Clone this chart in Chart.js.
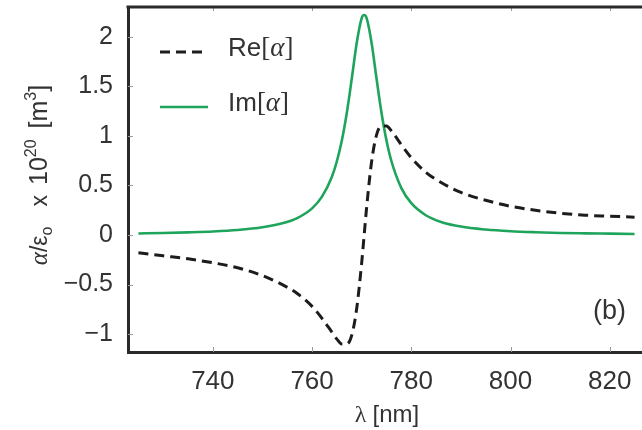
<!DOCTYPE html>
<html>
<head>
<meta charset="utf-8">
<script src="https://cdn.jsdelivr.net/npm/chart.js@4.4.1/dist/chart.umd.min.js"></script>
<style>
  html, body { margin: 0; padding: 0; background: #fff; overflow: hidden; }
  #wrap { position: relative; width: 642px; height: 430px; }
</style>
</head>
<body>
<div id="wrap"><canvas id="polChart" width="642" height="430"></canvas></div>
<script>
// wavelength samples (nm), denser around the resonance
const wavelengths = [725, 730, 735, 740, 745, 750, 754, 757, 760, 762, 764, 765, 766, 767, 768, 769, 770, 770.5,
  771, 772, 773, 774, 775, 776, 778, 780, 783, 786, 790, 795, 800, 805, 810, 815, 820, 825];

// real part of the polarizability
const reAlpha = [-0.18, -0.21, -0.24, -0.28, -0.33, -0.41, -0.50, -0.59, -0.72, -0.84, -0.98, -1.05, -1.10, -1.10, -1.01, -0.74, -0.28, 0.0,
  0.28, 0.74, 1.01, 1.10, 1.10, 1.05, 0.91, 0.78, 0.63, 0.53, 0.43, 0.35, 0.29, 0.25, 0.22, 0.20, 0.19, 0.18];

// imaginary part of the polarizability
const imAlpha = [0.016, 0.020, 0.027, 0.036, 0.051, 0.078, 0.118, 0.171, 0.269, 0.387, 0.588, 0.744, 0.953, 1.231, 1.576, 1.937, 2.188, 2.22,
  2.188, 1.937, 1.576, 1.231, 0.953, 0.744, 0.473, 0.321, 0.197, 0.132, 0.085, 0.055, 0.038, 0.028, 0.021, 0.017, 0.014, 0.011];

const seriesLabels = ['Re[α]', 'Im[α]'];
const xTicks = [740, 760, 780, 800, 820];
const yTicks = [-1, -0.5, 0, 0.5, 1, 1.5, 2];

const textColor = '#333';
const frameColor = '#2a2a2a';
const sans = '"Liberation Sans", Arial, sans-serif';
const serif = '"Liberation Serif", "Times New Roman", serif';

function toPoints(ys) {
  return wavelengths.map((x, i) => ({ x: x, y: ys[i] }));
}

// draw a row of text pieces with their own font, baseline shift and extra gap
function drawPieces(ctx, pieces, x, y) {
  pieces.forEach(p => {
    x += p.gap || 0;
    if (!p.t) return;
    ctx.font = p.font;
    ctx.fillText(p.t, x, y + (p.dy || 0));
    x += ctx.measureText(p.t).width;
  });
}
function piecesWidth(ctx, pieces) {
  let w = 0;
  pieces.forEach(p => {
    w += p.gap || 0;
    if (!p.t) return;
    ctx.font = p.font;
    w += ctx.measureText(p.t).width;
  });
  return w;
}

// top frame line, inner tick marks, legend, axis titles and panel tag
const decorations = {
  id: 'decorations',
  afterDatasetsDraw(chart) {
    const ctx = chart.ctx;
    const area = chart.chartArea;
    const xs = chart.scales.x, ys = chart.scales.y;
    ctx.save();

    // small inward ticks
    ctx.strokeStyle = '#9a9a9a';
    ctx.lineWidth = 1;
    xTicks.forEach(v => {
      const px = Math.round(xs.getPixelForValue(v)) + 0.5;
      ctx.beginPath();
      ctx.moveTo(px, area.bottom - 5); ctx.lineTo(px, area.bottom);
      ctx.moveTo(px, area.top); ctx.lineTo(px, area.top + 4);
      ctx.stroke();
    });
    yTicks.forEach(v => {
      const py = Math.round(ys.getPixelForValue(v)) + 0.5;
      ctx.beginPath();
      ctx.moveTo(area.left, py); ctx.lineTo(area.left + 5, py);
      ctx.stroke();
    });

    // top frame
    ctx.strokeStyle = frameColor;
    ctx.lineWidth = 3;
    ctx.beginPath();
    ctx.moveTo(area.left - 1.5, area.top);
    ctx.lineTo(area.right, area.top);
    ctx.stroke();

    // legend
    ctx.fillStyle = textColor;
    ctx.textBaseline = 'middle';
    ctx.textAlign = 'left';
    chart.data.datasets.forEach((ds, i) => {
      const ly = area.top + 45 + i * 55;
      ctx.strokeStyle = ds.borderColor;
      ctx.lineWidth = ds.borderWidth;
      ctx.setLineDash(ds.borderDash || []);
      ctx.beginPath();
      ctx.moveTo(area.left + 32, ly);
      ctx.lineTo(area.left + 80, ly);
      ctx.stroke();
      ctx.setLineDash([]);
      const parts = ds.label.split('[');
      const sym = parts[1].replace(']', '');
      drawPieces(ctx, [
        { t: parts[0], font: '26px ' + sans },
        { t: '[', font: '27px ' + serif },
        { t: sym, font: 'italic 27px ' + serif },
        { t: ']', font: '27px ' + serif }
      ], area.left + 100, ly - 3);
    });

    // x title
    const xt = [
      { t: 'λ ', font: '24px ' + serif },
      { t: '[nm]', font: '24px ' + sans }
    ];
    ctx.textBaseline = 'alphabetic';
    drawPieces(ctx, xt, (area.left + area.right) / 2 - piecesWidth(ctx, xt) / 2 + 2, 422);

    // y title, rotated
    const yt = [
      { t: 'α', font: 'italic 25px ' + serif },
      { t: '/', font: '23px ' + sans },
      { t: 'ε', font: '23px ' + sans },
      { t: 'o', font: '16px ' + sans, dy: 5 },
      { t: 'x', font: '23px ' + sans, gap: 20 },
      { t: '10', font: '25px ' + sans, gap: 10 },
      { t: '20', font: '16px ' + sans, dy: -11 },
      { t: '[m', font: '25px ' + sans, gap: 11 },
      { t: '3', font: '16px ' + sans, dy: -11 },
      { t: ']', font: '25px ' + sans }
    ];
    ctx.translate(47, 175);
    ctx.rotate(-Math.PI / 2);
    drawPieces(ctx, yt, -piecesWidth(ctx, yt) / 2, 0);
    ctx.setTransform(1, 0, 0, 1, 0, 0);

    // panel tag
    ctx.font = '27px ' + sans;
    ctx.textAlign = 'right';
    ctx.textBaseline = 'middle';
    ctx.fillText('(b)', area.right - 16, 312);

    ctx.restore();
  }
};

new Chart(document.getElementById('polChart'), {
  type: 'line',
  data: {
    datasets: [
      {
        label: seriesLabels[0],
        data: toPoints(reAlpha),
        borderColor: '#1c1c1c',
        borderWidth: 3,
        borderDash: [10, 6],
        pointRadius: 0,
        cubicInterpolationMode: 'monotone',
        fill: false
      },
      {
        label: seriesLabels[1],
        data: toPoints(imAlpha),
        borderColor: '#1fa45c',
        borderWidth: 2.6,
        pointRadius: 0,
        cubicInterpolationMode: 'monotone',
        fill: false
      }
    ]
  },
  options: {
    responsive: false,
    animation: false,
    devicePixelRatio: 1,
    layout: { padding: { top: 7, right: 0, left: 0, bottom: 0 } },
    plugins: { legend: { display: false }, tooltip: { enabled: false } },
    scales: {
      x: {
        type: 'linear',
        min: 722.9,
        max: 826.5,
        afterBuildTicks: s => { s.ticks = xTicks.map(v => ({ value: v })); },
        afterFit: s => { s.height = 78; s.paddingLeft = 0; s.paddingRight = 0; },
        grid: { display: false, drawTicks: false },
        border: { display: true, color: frameColor, width: 3 },
        ticks: { color: textColor, font: { family: sans, size: 26 }, padding: 14, maxRotation: 0 }
      },
      y: {
        min: -1.18,
        max: 2.3,
        afterBuildTicks: s => { s.ticks = yTicks.map(v => ({ value: v })); },
        afterFit: s => { s.width = 128; s.paddingTop = 0; s.paddingBottom = 0; },
        grid: { display: false, drawTicks: false },
        border: { display: true, color: frameColor, width: 3 },
        ticks: {
          color: textColor,
          font: { family: sans, size: 25 },
          padding: 15,
          callback: v => (v < 0 ? '\u2212' + Math.abs(v) : String(v))
        }
      }
    }
  },
  plugins: [decorations]
});
</script>
</body>
</html>
